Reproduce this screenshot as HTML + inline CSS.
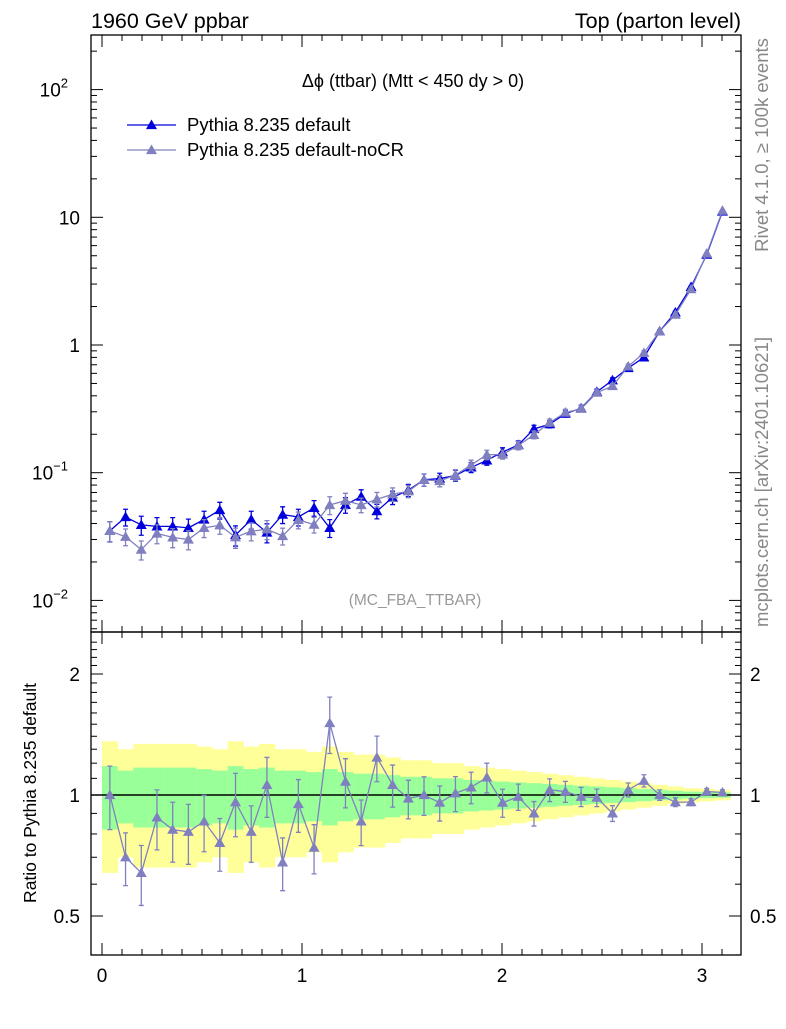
<!DOCTYPE html>
<html><head><meta charset="utf-8"><style>
body{margin:0;background:#fff}
svg{font-family:"Liberation Sans",sans-serif}
</style></head><body>
<svg id="c" width="786" height="1024" xmlns="http://www.w3.org/2000/svg"></svg>
<script>
const defVals=[0.035,0.045,0.039,0.038,0.038,0.037,0.043,0.051,0.0325,0.043,0.034,0.047,0.045,0.053,0.037,0.056,0.065,0.050,0.064,0.073,0.088,0.09,0.095,0.11,0.125,0.145,0.165,0.22,0.24,0.29,0.32,0.43,0.53,0.66,0.80,1.28,1.8,2.85,5.1,11.1];
const ratios=[1.0,0.70,0.64,0.88,0.82,0.81,0.86,0.76,0.96,0.81,1.06,0.68,0.95,0.74,1.51,1.08,0.86,1.24,1.06,0.98,1.0,0.957,1.01,1.045,1.106,0.957,0.99,0.90,1.03,1.02,0.99,0.985,0.90,1.03,1.085,1.0,0.96,0.96,1.02,1.015];
const relErr=[0.18,0.15,0.17,0.17,0.17,0.17,0.16,0.15,0.18,0.16,0.17,0.15,0.15,0.14,0.16,0.14,0.13,0.13,0.12,0.11,0.11,0.10,0.10,0.09,0.085,0.08,0.075,0.07,0.065,0.06,0.055,0.05,0.045,0.04,0.035,0.03,0.025,0.02,0.018,0.015];
const xTicks=[0,1,2,3];
const mainTicks=[["10","2",2],["10","",1],["1","",0],["10","−1",-1],["10","−2",-2]];
const ratioTicks=[2,1,0.5];

const S=document.getElementById('c');const NS='http://www.w3.org/2000/svg';
function el(t,a,p){const e=document.createElementNS(NS,t);for(const k in a)e.setAttribute(k,a[k]);(p||S).appendChild(e);return e;}
const L=91,R=741,T=35,M=632,B=955;
const X=v=>102+v*200;
const Y=v=>345-127.7*Math.log10(v);
const YR=v=>795-121*Math.log2(v);
const n=defVals.length,w=Math.PI/n;
const cx=i=>X((i+0.5)*w);
const noVals=defVals.map((v,i)=>v*ratios[i]);

const gb=el('g',{});


for(let i=0;i<n;i++){
  const x0=X(i*w),x1=X((i+1)*w)+0.5;
  const e=relErr[i];
  el('rect',{x:x0,y:YR(1+2*e),width:x1-x0,height:YR(Math.max(1-2*e,0.3))-YR(1+2*e),fill:'#ffff99'},gb);
  el('rect',{x:x0,y:YR(1+e),width:x1-x0,height:YR(1-e)-YR(1+e),fill:'#99ff99'},gb);
}
el('line',{x1:L,x2:R,y1:YR(1),y2:YR(1),stroke:'#000','stroke-width':1.5});

function tri(g,x,y,c,s){el('path',{d:`M${x},${y-s} L${x+s},${y+s*0.75} L${x-s},${y+s*0.75}Z`,fill:c},g);}
function series(vals,errs,yf,c,name){
  const g=el('g',{});
  
  
  el('polyline',{points:vals.map((v,i)=>cx(i)+','+yf(v)).join(' '),fill:'none',stroke:c,'stroke-width':1.3},g);
  vals.forEach((v,i)=>{
    const x=cx(i),y1=yf(v*(1+errs[i])),y2=yf(v*(1-errs[i]));
    el('path',{d:`M${x},${y1}V${y2}M${x-2.5},${y1}h5M${x-2.5},${y2}h5`,stroke:c,'stroke-width':1.3},g);
    tri(g,x,yf(v),c,5.5);
  });
}
series(defVals,relErr,Y,'#0000dd','series-default');
series(noVals,relErr,Y,'#8080c0','series-nocr');
series(ratios,relErr,YR,'#8080c0','ratio-nocr');

el('rect',{x:L,y:T,width:R-L,height:M-T,fill:'none',stroke:'#000','stroke-width':1.3});
el('rect',{x:L,y:M,width:R-L,height:B-M,fill:'none',stroke:'#000','stroke-width':1.3});
for(let v=0;v<=3.2;v+=0.1){const x=X(v);if(x>R)break;const big=Math.abs(v-Math.round(v))<1e-6,len=big?12:6;
  for(const [y0,y1] of [[T,M],[M,B]]){el('line',{x1:x,x2:x,y1:y1,y2:y1-len,stroke:'#000'});el('line',{x1:x,x2:x,y1:y0,y2:y0+len,stroke:'#000'});}}
xTicks.forEach(v=>{const t=el('text',{x:X(v),y:982,'font-size':19,'text-anchor':'middle'});t.textContent=v;});
for(let d=-3;d<=2;d++)for(let k=1;k<10;k++){const y=Y(k*Math.pow(10,d));if(y<T||y>M)continue;const len=k==1?12:6;
  el('line',{x1:L,x2:L+len,y1:y,y2:y,stroke:'#000'});el('line',{x1:R,x2:R-len,y1:y,y2:y,stroke:'#000'});}
mainTicks.forEach(([b,e,p])=>{const t=el('text',{x:e?68:80,y:Y(Math.pow(10,p))+7,'font-size':19,'text-anchor':'end'});t.textContent=b;
  if(e){const s=el('tspan',{dy:-9,'font-size':13});s.textContent=e;t.appendChild(s);}else t.setAttribute('x',80);});
for(const v of [0.4,0.5,0.6,0.7,0.8,0.9,1,2]){const y=YR(v);const big=(v==0.5||v==1||v==2),len=big?12:6;
  el('line',{x1:L,x2:L+len,y1:y,y2:y,stroke:'#000'});el('line',{x1:R,x2:R-len,y1:y,y2:y,stroke:'#000'});}
for(let v=1.1;v<2.5;v+=0.1){if(Math.abs(v-2)<0.01)continue;const y=YR(v);el('line',{x1:L,x2:L+6,y1:y,y2:y,stroke:'#000'});el('line',{x1:R,x2:R-6,y1:y,y2:y,stroke:'#000'});}
ratioTicks.forEach(v=>{const y=YR(v)+7;let t=el('text',{x:80,y,'font-size':19,'text-anchor':'end'});t.textContent=v;
  t=el('text',{x:750,y,'font-size':19});t.textContent=v;});
</script>
<svg width="786" height="1024" style="position:absolute;left:0;top:0" font-family="Liberation Sans,sans-serif">
<text x="91" y="28" font-size="21.5">1960 GeV ppbar</text>
<text x="741" y="28" font-size="21.5" text-anchor="end">Top (parton level)</text>
<text x="413" y="87" font-size="18" text-anchor="middle">Δϕ (ttbar) (Mtt &lt; 450 dy &gt; 0)</text>
<g>
<line x1="127" x2="176" y1="125" y2="125" stroke="#0000dd" stroke-width="1.3"/><path d="M151.5,119.5 l5.5,9.6 h-11z" fill="#0000dd"/>
<text x="187" y="131" font-size="18.5">Pythia 8.235 default</text>
<line x1="127" x2="176" y1="150" y2="150" stroke="#8080c0" stroke-width="1.3"/><path d="M151.5,144.5 l5.5,9.6 h-11z" fill="#8080c0"/>
<text x="187" y="156" font-size="18.5">Pythia 8.235 default-noCR</text>
</g>
<text x="415" y="605" font-size="15.5" fill="#999" text-anchor="middle">(MC_FBA_TTBAR)</text>
<text transform="translate(768,145) rotate(-90)" font-size="18.5" fill="#888" text-anchor="middle">Rivet 4.1.0, ≥ 100k events</text>
<text transform="translate(768,482) rotate(-90)" font-size="18.5" fill="#888" text-anchor="middle">mcplots.cern.ch [arXiv:2401.10621]</text>
<text transform="translate(36,793) rotate(-90)" font-size="17.5" text-anchor="middle">Ratio to Pythia 8.235 default</text>
</svg>
</body></html>
